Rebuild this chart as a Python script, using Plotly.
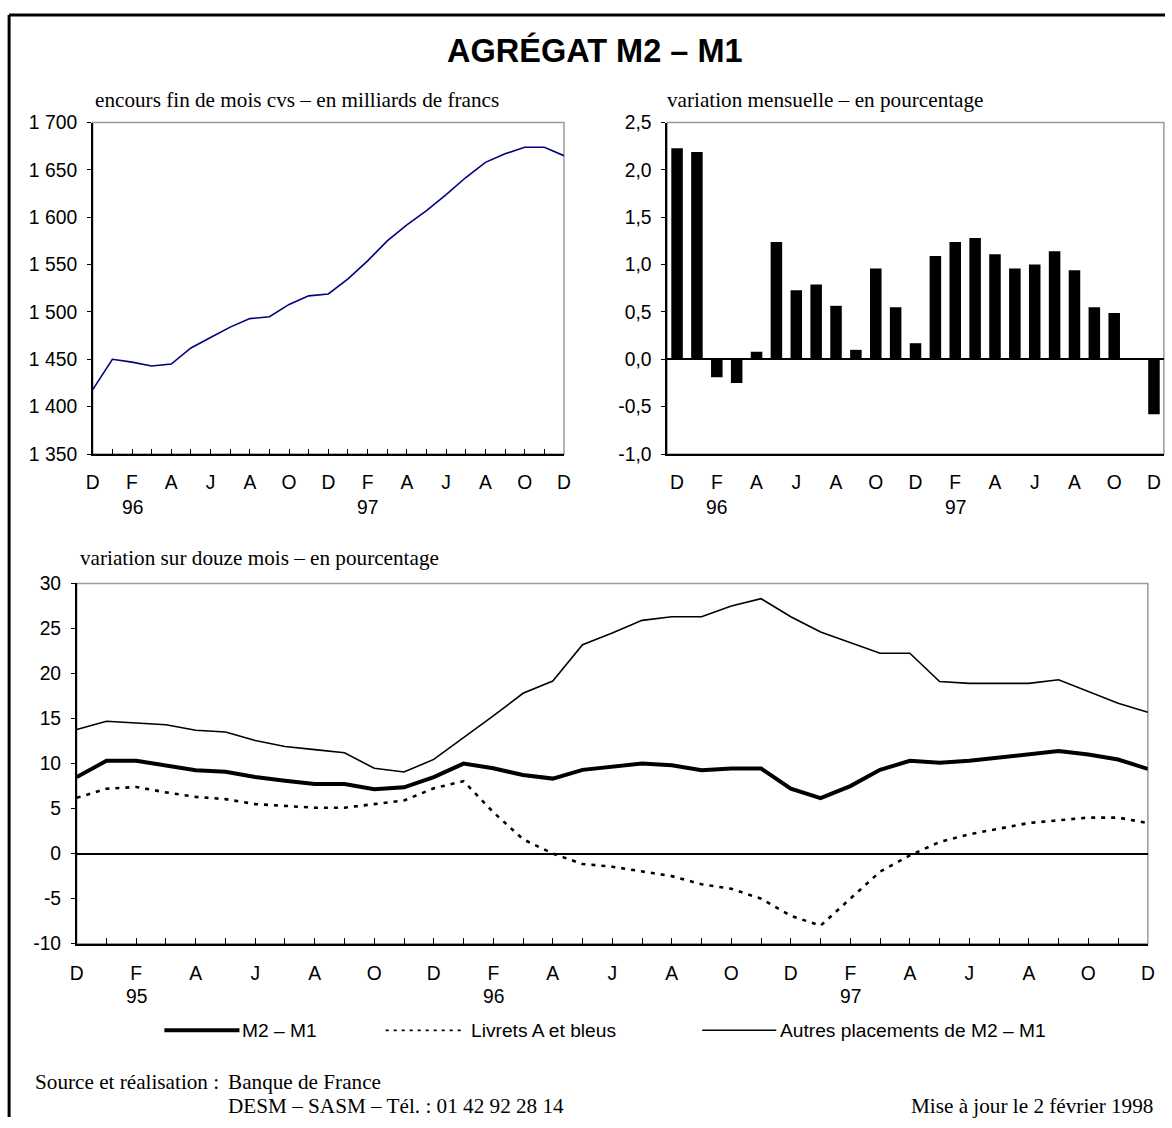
import plotly.graph_objects as go

# Figure fills the window (body margin removed in post_script). The capture shows the
# page slightly reduced with a small border, so reference pixel positions are mapped
# back to page pixels before converting to paper fractions.
W, H = 1172, 1128
SX = 1188 / 1172
SY = 1144 / 1128
def PX(x): return (x * SX - 8) / W
def PY(y): return 1 - (y * SY - 8) / H

# ---------------- data ----------------
# Top-left: encours fin de mois cvs (Dec 95 .. Dec 97)
encours_months = list(range(25))
encours = [1418, 1450, 1447, 1443, 1445, 1462, 1473, 1484, 1493, 1495, 1508, 1517, 1519,
           1535, 1554, 1575, 1592, 1607, 1624, 1642, 1658, 1667, 1674, 1674, 1665]

# Top-right: variation mensuelle (Dec 95 .. Dec 97)
var_mens = [2.23, 2.19, -0.19, -0.25, 0.08, 1.24, 0.73, 0.79, 0.565, 0.10, 0.96, 0.55, 0.17,
            1.09, 1.24, 1.28, 1.11, 0.96, 1.00, 1.14, 0.94, 0.55, 0.49, 0.0, -0.58]

# Bottom: variation sur douze mois (Dec 94 .. Dec 97)
m2m1 = [8.5, 10.3, 10.3, 9.8, 9.27, 9.1, 8.5, 8.1, 7.73, 7.73, 7.14, 7.36, 8.5,
        10.0, 9.47, 8.73, 8.33, 9.3, 9.6, 10.0, 9.8, 9.26, 9.45, 9.45, 7.2,
        6.16, 7.5, 9.3, 10.3, 10.1, 10.3, 10.66, 11.0, 11.4, 11.0, 10.45, 9.4]
livrets = [6.2, 7.2, 7.4, 6.8, 6.3, 6.05, 5.5, 5.3, 5.1, 5.1, 5.5, 5.9, 7.25,
           8.05, 4.6, 1.6, 0.0, -1.15, -1.45, -2.0, -2.5, -3.4, -3.9, -5.0, -6.9,
           -8.0, -5.0, -2.0, -0.2, 1.3, 2.15, 2.8, 3.4, 3.7, 4.0, 4.0, 3.4]
autres = [13.78, 14.7, 14.5, 14.3, 13.7, 13.5, 12.55, 11.9, 11.55, 11.2, 9.47, 9.06, 10.46,
          12.86, 15.3, 17.8, 19.16, 23.2, 24.5, 25.9, 26.3, 26.3, 27.5, 28.3, 26.3,
          24.6, 23.4, 22.25, 22.25, 19.1, 18.9, 18.9, 18.9, 19.3, 18.0, 16.7, 15.7]

series_names = ["M2 – M1", "Livrets A et bleus", "Autres placements de M2 – M1"]

# tick labels
month_letters_25 = ["D", "", "F", "", "A", "", "J", "", "A", "", "O", "", "D",
                    "", "F", "", "A", "", "J", "", "A", "", "O", "", "D"]
month_letters_37 = ["D", "", "F", "", "A", "", "J", "", "A", "", "O", "", "D",
                    "", "F", "", "A", "", "J", "", "A", "", "O", "", "D",
                    "", "F", "", "A", "", "J", "", "A", "", "O", "", "D"]
years_top = [("96", 2), ("97", 14)]
years_bottom = [("95", 2), ("96", 14), ("97", 26)]

enc_tickvals = [1350, 1400, 1450, 1500, 1550, 1600, 1650, 1700]
enc_ticktext = ["1 350", "1 400", "1 450", "1 500", "1 550", "1 600", "1 650", "1 700"]
var_tickvals = [-1.0, -0.5, 0.0, 0.5, 1.0, 1.5, 2.0, 2.5]
var_ticktext = ["-1,0", "-0,5", "0,0", "0,5", "1,0", "1,5", "2,0", "2,5"]
yoy_tickvals = [-10, -5, 0, 5, 10, 15, 20, 25, 30]
yoy_ticktext = ["-10", "-5", "0", "5", "10", "15", "20", "25", "30"]

title_text = "AGRÉGAT M2 – M1"
sub1 = "encours fin de mois cvs – en milliards de francs"
sub2 = "variation mensuelle – en pourcentage"
sub3 = "variation sur douze mois – en pourcentage"

# ---------------- figure ----------------
SANS = "Liberation Sans, Arial, sans-serif"
SERIF = "Liberation Serif, Times New Roman, serif"
TICKFONT = dict(family=SANS, size=19.3, color="black")

fig = go.Figure()

fig.add_trace(go.Scatter(x=encours_months, y=encours, mode="lines",
                         line=dict(color="#000080", width=1.6),
                         xaxis="x", yaxis="y", showlegend=False))

fig.add_trace(go.Bar(x=list(range(25)), y=var_mens, marker=dict(color="black", line=dict(width=0)),
                     width=0.58, xaxis="x2", yaxis="y2", showlegend=False))

fig.add_trace(go.Scatter(x=list(range(37)), y=autres, mode="lines", name=series_names[2],
                         line=dict(color="black", width=1.6),
                         xaxis="x3", yaxis="y3", showlegend=False))
fig.add_trace(go.Scatter(x=list(range(37)), y=livrets, mode="lines", name=series_names[1],
                         line=dict(color="black", width=2.6, dash="4px,6px"),
                         xaxis="x3", yaxis="y3", showlegend=False))
fig.add_trace(go.Scatter(x=list(range(37)), y=m2m1, mode="lines", name=series_names[0],
                         line=dict(color="black", width=4),
                         xaxis="x3", yaxis="y3", showlegend=False))

xcommon = dict(showgrid=False, zeroline=False, showline=True, linecolor="black", linewidth=1.5,
               tickfont=TICKFONT, tickmode="array", fixedrange=True)
ycommon = dict(showgrid=False, showline=True, linecolor="black", linewidth=1.5,
               tickfont=TICKFONT, tickmode="array", ticks="outside", ticklen=4,
               tickcolor="black", ticklabelstandoff=6, fixedrange=True)

layout = dict(
    width=W, height=H,
    margin=dict(l=0, r=0, t=0, b=0),
    paper_bgcolor="white", plot_bgcolor="white",
    xaxis=dict(domain=[PX(93.5), PX(564)], range=[0, 24], anchor="y",
               tickvals=list(range(25)), ticktext=month_letters_25,
               ticks="inside", ticklen=5, tickcolor="black", ticklabelstandoff=10, **xcommon),
    yaxis=dict(domain=[PY(454), PY(121)], range=[1350, 1700], anchor="x",
               tickvals=enc_tickvals, ticktext=enc_ticktext, zeroline=False, **ycommon),
    xaxis2=dict(domain=[PX(667), PX(1163)], range=[-0.5, 24.5], anchor="y2",
                tickvals=list(range(25)), ticktext=month_letters_25,
                ticks="", ticklabelstandoff=10, **xcommon),
    yaxis2=dict(domain=[PY(454), PY(121)], range=[-1.0, 2.5], anchor="x2",
                tickvals=var_tickvals, ticktext=var_ticktext,
                zeroline=True, zerolinecolor="black", zerolinewidth=1.5, **ycommon),
    xaxis3=dict(domain=[PX(77.5), PX(1147)], range=[0, 36], anchor="y3",
                tickvals=list(range(37)), ticktext=month_letters_37,
                ticks="inside", ticklen=6, tickcolor="black", ticklabelstandoff=11, **xcommon),
    yaxis3=dict(domain=[PY(946), PY(584)], range=[-10, 30], anchor="x3",
                tickvals=yoy_tickvals, ticktext=yoy_ticktext,
                zeroline=True, zerolinecolor="black", zerolinewidth=1.5, **ycommon),
    showlegend=False,
)
fig.update_layout(**layout)

shapes = []
# gray plot frames
for xr, yr in [("x", "y"), ("x2", "y2"), ("x3", "y3")]:
    shapes.append(dict(type="rect", xref=f"{xr} domain", yref=f"{yr} domain",
                       x0=0, x1=1, y0=0, y1=1, line=dict(color="#9a9a9a", width=1.5),
                       layer="below"))
# outer page frame (top and left)
shapes.append(dict(type="line", xref="paper", yref="paper", x0=PX(10), x1=1.0,
                   y0=PY(13), y1=PY(13), line=dict(color="black", width=3)))
shapes.append(dict(type="line", xref="paper", yref="paper", x0=PX(10), x1=PX(10),
                   y0=PY(13), y1=0, line=dict(color="black", width=3)))
# legend samples
leg_y = PY(1033)
shapes.append(dict(type="line", xref="paper", yref="paper", x0=PX(165), x1=PX(240),
                   y0=leg_y, y1=leg_y, line=dict(color="black", width=4)))
shapes.append(dict(type="line", xref="paper", yref="paper", x0=PX(386), x1=PX(462),
                   y0=leg_y, y1=leg_y, line=dict(color="black", width=1.8, dash="3px,5px")))
shapes.append(dict(type="line", xref="paper", yref="paper", x0=PX(702), x1=PX(776),
                   y0=leg_y, y1=leg_y, line=dict(color="black", width=1.5)))
fig.update_layout(shapes=shapes)

ann = []
ann.append(dict(text=f"<b>{title_text}</b>", x=PX(595), y=PY(48.5), xref="paper", yref="paper",
                showarrow=False, xanchor="center", yanchor="middle",
                font=dict(family=SANS, size=32.5, color="black")))
SUBFONT = dict(family=SERIF, size=21.2, color="black")
for txt, x, y in [(sub1, 94, 98), (sub2, 665, 98), (sub3, 79, 558)]:
    ann.append(dict(text=txt, x=PX(x), y=PY(y), xref="paper", yref="paper", showarrow=False,
                    xanchor="left", yanchor="middle", font=SUBFONT))
for txt, i in years_top:
    ann.append(dict(text=txt, x=i, y=PY(508), xref="x", yref="paper", showarrow=False,
                    xanchor="center", yanchor="middle", font=TICKFONT))
    ann.append(dict(text=txt, x=i, y=PY(508), xref="x2", yref="paper", showarrow=False,
                    xanchor="center", yanchor="middle", font=TICKFONT))
for txt, i in years_bottom:
    ann.append(dict(text=txt, x=i, y=PY(999), xref="x3", yref="paper", showarrow=False,
                    xanchor="center", yanchor="middle", font=TICKFONT))
# legend texts
for txt, x in [(series_names[0], 241), (series_names[1], 469), (series_names[2], 778)]:
    ann.append(dict(text=txt, x=PX(x), y=leg_y, xref="paper", yref="paper", showarrow=False,
                    xanchor="left", yanchor="middle", font=dict(family=SANS, size=19.2, color="black")))
# footer
FOOT = dict(family=SERIF, size=21.2, color="black")
ann.append(dict(text="Source et réalisation :", x=PX(34), y=PY(1084.5), xref="paper", yref="paper",
                showarrow=False, xanchor="left", yanchor="middle", font=FOOT))
ann.append(dict(text="Banque de France", x=PX(227), y=PY(1084.5), xref="paper", yref="paper",
                showarrow=False, xanchor="left", yanchor="middle", font=FOOT))
ann.append(dict(text="DESM – SASM – Tél. : 01 42 92 28 14", x=PX(227), y=PY(1109.5), xref="paper",
                yref="paper", showarrow=False, xanchor="left", yanchor="middle", font=FOOT))
ann.append(dict(text="Mise à jour le 2 février 1998", x=PX(1154), y=PY(1109.5), xref="paper",
                yref="paper", showarrow=False, xanchor="right", yanchor="middle", font=FOOT))
fig.update_layout(annotations=ann)

fig.write_html("out.html", config={"displayModeBar": False},
               post_script="document.body.style.margin='0';document.body.style.padding='0';"
                           "document.documentElement.style.overflow='hidden';")
